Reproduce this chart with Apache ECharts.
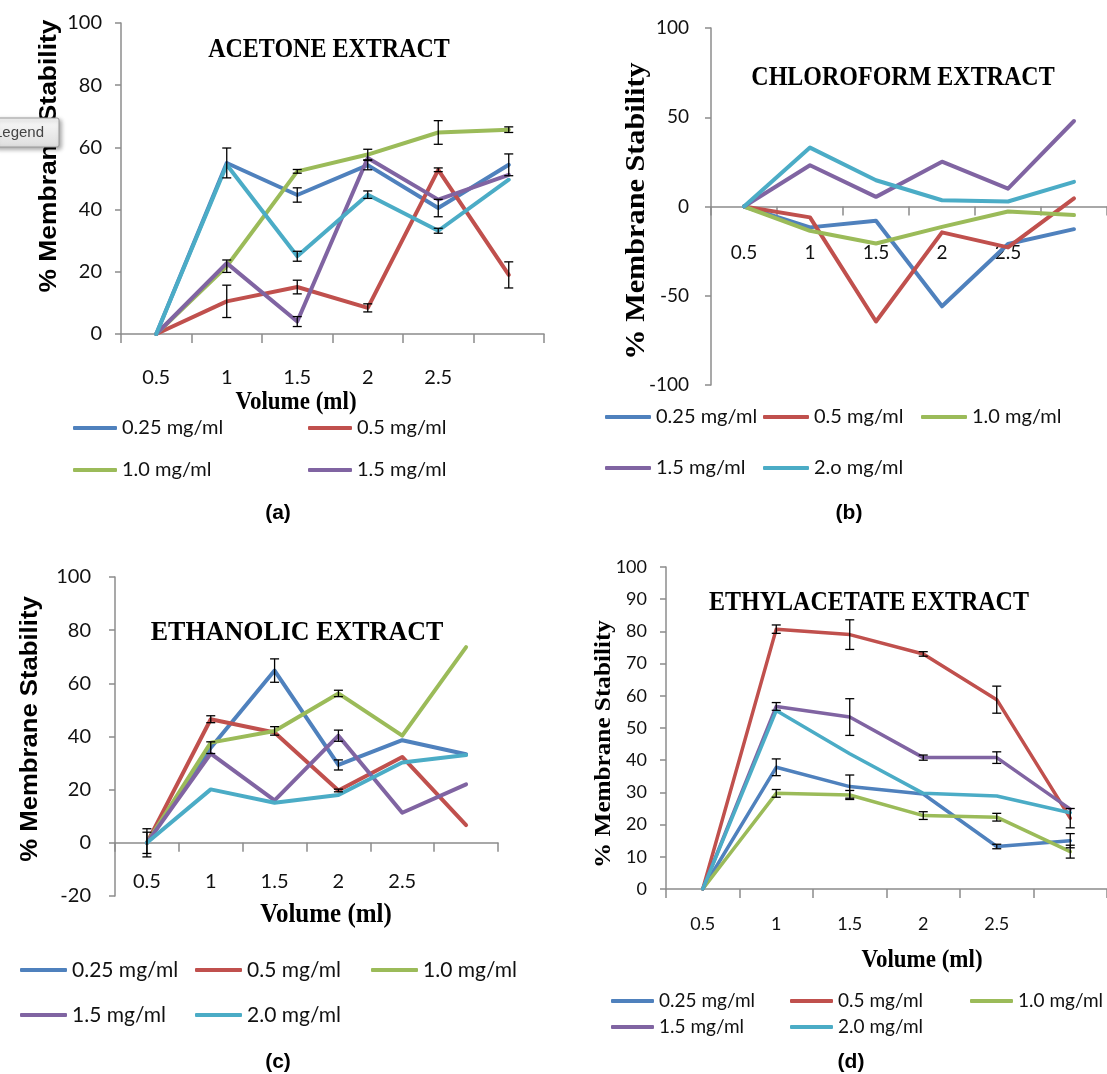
<!DOCTYPE html>
<html><head><meta charset="utf-8">
<script src="https://cdn.jsdelivr.net/npm/echarts@6/dist/echarts.min.js"></script>
<style>html,body{margin:0;padding:0;background:#fff}#c{width:1107px;height:1074px}</style>
</head><body><div id="c"></div>
<script>
// ---------- DATA ----------
const categories = ['0.5', '1', '1.5', '2', '2.5', ''];
const namesACD = ['0.25 mg/ml', '0.5 mg/ml', '1.0 mg/ml', '1.5 mg/ml', '2.0 mg/ml'];
const namesB = ['0.25 mg/ml', '0.5 mg/ml', '1.0 mg/ml', '1.5 mg/ml', '2.o mg/ml'];

// (a) Acetone extract
const a025 = [0, 55, 44.7, 54.3, 40.5, 54.4];
const a05  = [0, 10.5, 15.1, 8.4, 52.8, 19];
const a10  = [0, 21.8, 52.3, 57.7, 64.8, 65.7];
const a15  = [0, 22.8, 4, 56.6, 43.2, 51.2];
const a20  = [0, 54.4, 25, 44.8, 33.2, 49.6];
const aErr025 = [null, 4.8, 2.3, 1.5, 2.8, 3.5];
const aErr05  = [null, 5.2, 2.2, 1.3, 0.6, 4.2];
const aErr10  = [null, 2, 0.6, 1.7, 3.8, 0.9];
const aErr15  = [null, null, 1.6, null, null, null];
const aErr20  = [null, null, 1.6, 1.2, 0.8, null];

// (b) Chloroform extract
const b025 = [0, -11.7, -8, -55.9, -21, -12.7];
const b05  = [0, -6.1, -64.4, -14.5, -22.9, 4.5];
const b10  = [0, -13.6, -20.7, -11.4, -2.8, -4.8];
const b15  = [0, 23.1, 5.4, 25.1, 10, 47.9];
const b20  = [0, 33, 14.7, 3.5, 2.8, 13.8];

// (c) Ethanolic extract
const c025 = [0, 35.8, 64.8, 29.3, 38.6, 33.3];
const c05  = [0, 46.5, 41.5, 19.7, 32.3, 6.7];
const c10  = [0, 37.7, 42.1, 56.2, 40.3, 73.6];
const c15  = [0, 33.6, 16, 40.3, 11.3, 22];
const c20  = [0, 20.1, 15.1, 18, 30.2, 33];
const cErr025 = [5.3, 2.2, 4.4, 1.9, null, null];
const cErr05  = [4, 1.3, null, 0.5, null, null];
const cErr10  = [null, null, 1.6, 1.2, null, null];
const cErr15  = [null, null, null, 2.1, null, null];
const cErr20  = [null, null, null, null, null, null];

// (d) Ethylacetate extract
const d025 = [0, 37.8, 31.8, 29.5, 13.2, 15];
const d05  = [0, 80.7, 79, 73, 58.8, 22];
const d10  = [0, 29.7, 29.2, 22.8, 22.3, 11.6];
const d15  = [0, 56.7, 53.4, 40.8, 40.8, 24.8];
const d20  = [0, 55.4, 42, 29.7, 28.9, 23.7];
const dErr025 = [null, 2.6, 3.6, null, 0.7, 2.2];
const dErr05  = [null, 1.3, 4.6, 0.7, 4.2, 3];
const dErr10  = [null, 1.2, 1.4, 1.2, 1.2, 2];
const dErr15  = [null, 1.2, 5.7, 0.8, 1.8, null];
const dErr20  = [null, null, null, null, null, null];

// y-axis ranges [min, max, interval]
const yRangeA = [0, 100, 20];
const yRangeB = [-100, 100, 50];
const yRangeC = [-20, 100, 20];
const yRangeD = [0, 100, 10];

// ---------- STYLE / BUILD ----------
const colors = ['#4F81BD', '#C0504D', '#9BBB59', '#8064A2', '#4BACC6'];
const axisColor = '#8C8C8C';
const tickFont = 'Lato';

const panels = [
  { grid: {left: 121, top: 23, width: 423, height: 311}, y: yRangeA, names: namesACD,
    vals: [a025, a05, a10, a15, a20], errs: [aErr025, aErr05, aErr10, aErr15, aErr20],
    xMargin: 34, yMargin: 19, fs: 20, lw: 4 },
  { grid: {left: 711, top: 28, width: 401, height: 357}, y: yRangeB, names: namesB,
    vals: [b025, b05, b10, b15, b20], errs: null,
    xMargin: -142, yMargin: 22, fs: 19, lw: 4 },
  { grid: {left: 115, top: 577, width: 383, height: 319}, y: yRangeC, names: namesACD,
    vals: [c025, c05, c10, c15, c20], errs: [cErr025, cErr05, cErr10, cErr15, cErr20],
    xMargin: -24, yMargin: 24, fs: 20, lw: 4 },
  { grid: {left: 666, top: 567, width: 442, height: 322}, y: yRangeD, names: namesACD,
    vals: [d025, d05, d10, d15, d20], errs: [dErr025, dErr05, dErr10, dErr15, dErr20],
    xMargin: 26, yMargin: 19, fs: 18, lw: 3.5 }
];

function renderErr(params, api) {
  const lo = api.coord([api.value(0), api.value(1)]);
  const hi = api.coord([api.value(0), api.value(2)]);
  const w = 4.5;
  const st = {stroke: '#000', lineWidth: 1.3};
  return {type: 'group', children: [
    {type: 'line', shape: {x1: lo[0], y1: hi[1], x2: lo[0], y2: lo[1]}, style: st},
    {type: 'line', shape: {x1: lo[0] - w, y1: hi[1], x2: lo[0] + w, y2: hi[1]}, style: st},
    {type: 'line', shape: {x1: lo[0] - w, y1: lo[1], x2: lo[0] + w, y2: lo[1]}, style: st}
  ]};
}

const grids = [], xAxes = [], yAxes = [], series = [];
panels.forEach((p, k) => {
  grids.push(Object.assign({containLabel: false}, p.grid));
  xAxes.push({
    type: 'category', gridIndex: k, data: categories, boundaryGap: true,
    axisLine: {show: true, onZero: true, lineStyle: {color: axisColor, width: 1.5}},
    axisTick: {show: true, interval: 0, length: 9, lineStyle: {color: axisColor, width: 1.5}},
    axisLabel: {interval: 0, margin: p.xMargin, fontFamily: tickFont, fontSize: p.fs, color: '#111'},
    splitLine: {show: false}
  });
  yAxes.push({
    type: 'value', gridIndex: k, min: p.y[0], max: p.y[1], interval: p.y[2],
    axisLine: {show: true, onZero: false, lineStyle: {color: axisColor, width: 1.5}},
    axisTick: {show: true, length: 6, lineStyle: {color: axisColor, width: 1.5}},
    axisLabel: {margin: p.yMargin, fontFamily: tickFont, fontSize: p.fs, color: '#111'},
    splitLine: {show: false}
  });
  p.vals.forEach((v, i) => {
    series.push({
      type: 'line', name: p.names[i], xAxisIndex: k, yAxisIndex: k, data: v,
      symbol: 'none', smooth: false, silent: true,
      lineStyle: {color: colors[i], width: p.lw, cap: 'round', join: 'round'},
      itemStyle: {color: colors[i]}, z: 2
    });
  });
  if (p.errs) {
    const ed = [];
    p.errs.forEach((e, i) => {
      e.forEach((err, j) => {
        if (err !== null) ed.push([j, p.vals[i][j] - err, p.vals[i][j] + err]);
      });
    });
    series.push({
      type: 'custom', name: 'errorbars-' + k, xAxisIndex: k, yAxisIndex: k,
      data: ed, renderItem: renderErr, encode: {x: 0, y: [1, 2]}, z: 5, silent: true
    });
  }
});

// legends: one component per item to follow the original grid placement
function leg(name, x, y, fs, w) {
  return {
    data: [name], left: x, top: y - fs / 2, padding: 0, itemGap: 0,
    icon: 'roundRect', itemWidth: w, itemHeight: 4, orient: 'horizontal',
    textStyle: {fontFamily: tickFont, fontSize: fs, color: '#111'}
  };
}
const legends = [
  leg('0.25 mg/ml', 73, 428, 20, 44), leg('0.5 mg/ml', 308, 428, 20, 44),
  leg('1.0 mg/ml', 73, 470, 20, 44), leg('1.5 mg/ml', 308, 470, 20, 44),

  leg('0.25 mg/ml', 605, 417, 20, 46), leg('0.5 mg/ml', 763, 417, 20, 46), leg('1.0 mg/ml', 921, 417, 20, 46),
  leg('1.5 mg/ml', 605, 468, 20, 46), leg('2.o mg/ml', 763, 468, 20, 46),

  leg('0.25 mg/ml', 20, 970, 21, 47), leg('0.5 mg/ml', 195, 970, 21, 47), leg('1.0 mg/ml', 371, 970, 21, 47),
  leg('1.5 mg/ml', 20, 1015, 21, 47), leg('2.0 mg/ml', 195, 1015, 21, 47),

  leg('0.25 mg/ml', 611, 1001, 19, 43), leg('0.5 mg/ml', 790, 1001, 19, 43), leg('1.0 mg/ml', 970, 1001, 19, 43),
  leg('1.5 mg/ml', 611, 1027, 19, 43), leg('2.0 mg/ml', 790, 1027, 19, 43)
];

function txt(text, x, y, font, opts) {
  opts = opts || {};
  return {
    type: 'text', x: x, y: y, rotation: opts.rot || 0, scaleX: opts.sx || 1, scaleY: opts.sy || 1, z: 50,
    style: {text: text, font: font, fill: '#000', align: 'center', verticalAlign: 'middle',
            textAlign: 'center', textVerticalAlign: 'middle'}
  };
}
const serifB = (s) => 'bold ' + s + 'px "Liberation Serif", "Times New Roman", serif';
const sansB = (s) => 'bold ' + s + 'px "Liberation Sans", Arial, sans-serif';
const R = Math.PI / 2;

const graphics = [
  // titles
  txt('ACETONE EXTRACT', 329, 50, serifB(24), {sy: 1.1}),
  txt('CHLOROFORM EXTRACT', 903, 78, serifB(24), {sy: 1.15}),
  txt('ETHANOLIC EXTRACT', 297, 633, serifB(26), {sy: 1.05}),
  txt('ETHYLACETATE EXTRACT', 869, 603, serifB(24), {sy: 1.1}),
  // y-axis names
  txt('% Membrane Stability', 49, 156, sansB(24), {rot: R, sx: 1.1}),
  txt('% Membrane Stability', 637, 211, serifB(27), {rot: R, sx: 1.12}),
  txt('% Membrane Stability', 30, 729, sansB(24), {rot: R, sx: 1.07}),
  txt('% Membrane Stability', 604, 744, serifB(24), {rot: R, sx: 1.05}),
  // x-axis names
  txt('Volume (ml)', 296, 402, serifB(23), {sy: 1.1}),
  txt('Volume (ml)', 326, 915, serifB(25), {sy: 1.1}),
  txt('Volume (ml)', 922, 960, serifB(23), {sy: 1.1}),
  // panel labels
  txt('(a)', 278, 513, sansB(21)),
  txt('(b)', 849, 513, sansB(21)),
  txt('(c)', 278, 1062, sansB(21)),
  txt('(d)', 851, 1062, sansB(21)),
  // "Legend" tooltip box left over in panel (a)
  {
    type: 'group', z: 60, children: [
      {type: 'rect', shape: {x: -6, y: 118, width: 65, height: 29, r: 2}, z: 60,
       style: {fill: new echarts.graphic.LinearGradient(0, 0, 0, 1, [{offset: 0, color: '#fafafa'}, {offset: 1, color: '#dedede'}]),
               stroke: '#9a9a9a', lineWidth: 1, shadowBlur: 4, shadowOffsetX: 2, shadowOffsetY: 2, shadowColor: 'rgba(0,0,0,0.35)'}},
      {type: 'text', x: -6, y: 133, z: 61,
       style: {text: 'Legend', font: '15px "Liberation Sans", Arial, sans-serif', fill: '#444',
               verticalAlign: 'middle', textVerticalAlign: 'middle'}}
    ]
  }
];

const chart = echarts.init(document.getElementById('c'), null, {renderer: 'canvas'});
chart.setOption({
  backgroundColor: '#fff',
  animation: false,
  color: colors,
  grid: grids,
  xAxis: xAxes,
  yAxis: yAxes,
  legend: legends,
  series: series,
  graphic: graphics
});
</script></body></html>
